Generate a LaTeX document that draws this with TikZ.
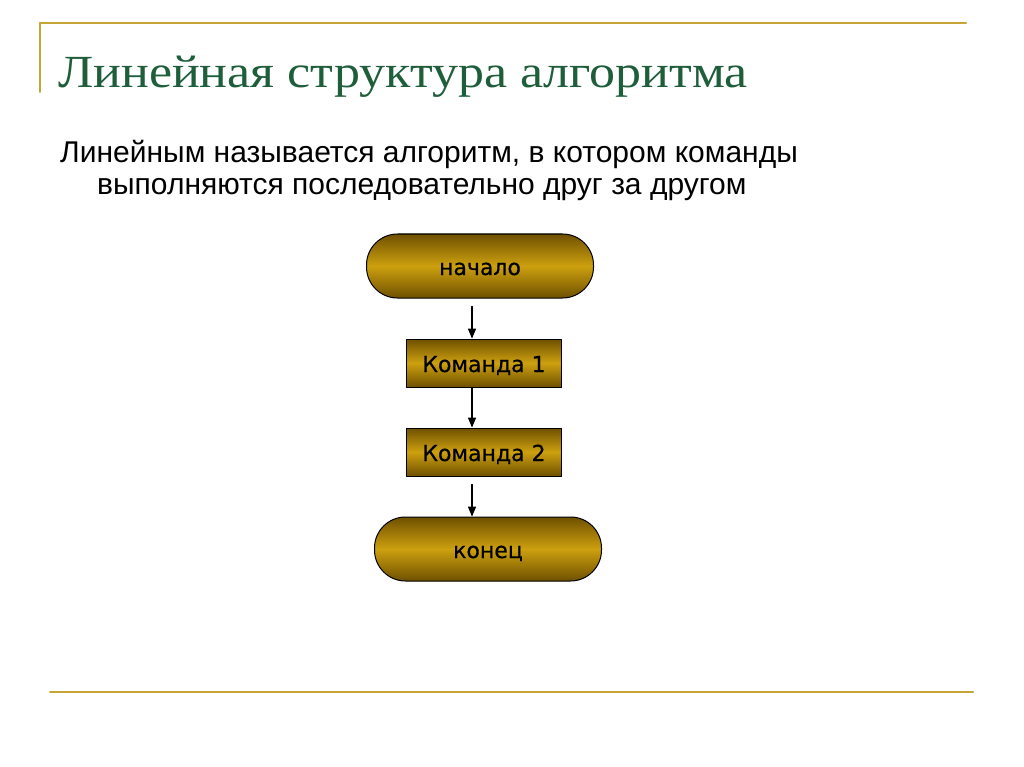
\documentclass[tikz,border=0pt]{standalone}
\usepackage{fontspec}
\setmainfont{Liberation Serif}
\setsansfont{Liberation Sans}
\newfontfamily\titlefont[FakeStretch=1.13]{Liberation Serif}
\newfontfamily\chartfont[FakeBold=0.6]{DejaVu Sans}
\usetikzlibrary{arrows,positioning}
\definecolor{rulegold}{RGB}{200,165,55}
\definecolor{titlegreen}{RGB}{30,94,58}
\definecolor{golddark}{RGB}{110,80,0}
\definecolor{goldmid}{RGB}{205,160,15}

\begin{document}
\begin{tikzpicture}[line cap=round,line join=round,>=triangle 45,x=1pt,y=-1pt,
  rule/.style={rulegold,line width=2pt},
  term/.style={draw,line width=1pt,rounded corners=31pt,minimum width=227pt,minimum height=64pt,
    top color=golddark,bottom color=golddark,middle color=goldmid,
    text height=20pt,text depth=2pt,font=\chartfont\fontsize{22}{26}\selectfont},
  cmdbox/.style={draw,line width=1pt,minimum width=155pt,minimum height=48pt,
    top color=golddark,bottom color=golddark,middle color=goldmid,
    text height=20pt,text depth=2pt,font=\chartfont\fontsize{22}{26}\selectfont},
  flow/.style={->,line width=1.3pt}]
\useasboundingbox (0,0) rectangle (1024,767);
\fill[white] (0,0) rectangle (1024,767);

% frame lines
\draw[rule] (40,23) -- (966,23);
\draw[rule] (40,23) -- (40,92);
\draw[rule] (50,692) -- (973,692);

% heading and definition
\node[anchor=base west,inner sep=0pt,text=titlegreen,font=\titlefont\fontsize{46}{50}\selectfont] (title) at (58,88) {Линейная структура алгоритма};
\node[anchor=base west,inner sep=0pt,font=\sffamily\fontsize{30}{34}\selectfont] (def1) at (60,163) {Линейным называется алгоритм, в котором команды};
\node[anchor=base west,inner sep=0pt,font=\sffamily\fontsize{30}{34}\selectfont] (def2) at (97,195) {выполняются последовательно друг за другом};

% flowchart
\node[term] (start) at (480,266) {начало};
\node[cmdbox] (cmd1) at (484,363) {Команда 1};
\node[cmdbox] (cmd2) at (484,452) {Команда 2};
\node[term] (stop) at (488,549) {конец};

\coordinate (axis) at (472,0);
\draw[flow,shorten <=8pt] (start.south -| axis) -- (cmd1.north -| axis);
\draw[flow] (cmd1.south -| axis) -- (cmd2.north -| axis);
\draw[flow,shorten <=8pt] (cmd2.south -| axis) -- (stop.north -| axis);
\end{tikzpicture}
\end{document}
